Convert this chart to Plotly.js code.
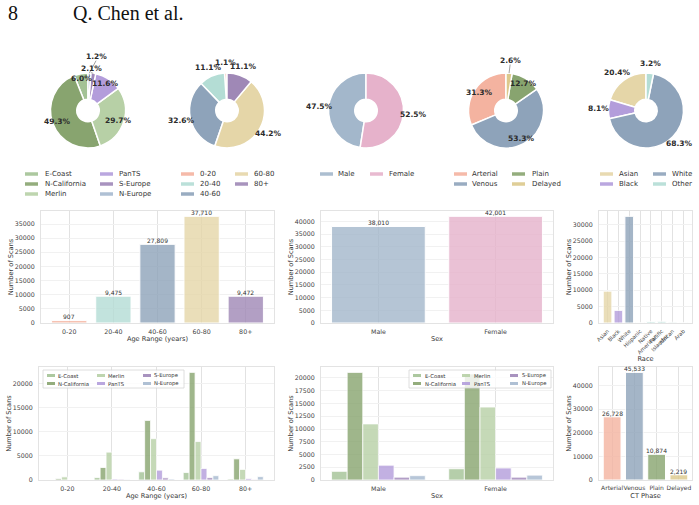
<!DOCTYPE html>
<html><head><meta charset="utf-8">
<script src="https://cdn.plot.ly/plotly-3.0.1.min.js"></script>
<style>html,body{margin:0;padding:0;background:#fff}#chart{width:699px;height:505px}</style>
</head><body><div id="chart"></div>
<script>
// ---------------- data ----------------
const datasets = ['E-Coast','N-California','Merlin','PanTS','S-Europe','N-Europe'];
const datasetShare = [6.0, 49.3, 29.7, 11.6, 2.1, 1.2];
const ageGroups = ['0-20','20-40','40-60','60-80','80+'];
const ageCounts = [907, 9475, 27809, 37710, 9472];
const sexes = ['Male','Female'];
const sexCounts = [38010, 42001];
const phases = ['Arterial','Venous','Plain','Delayed'];
const phaseCounts = [26728, 45533, 10874, 2219];
const races = ['Asian','Black','White','Hispanic','Native<br>American','Pacific<br>Islander','African','Arab'];
const raceCounts = [9740, 3870, 32600, 130, 480, 520, 240, 160];
const raceGroups = ['Asian','Black','White','Other'];
const raceGroupOf = [0, 1, 2, 3, 3, 3, 3, 3];
// counts by dataset (rows) and age group (columns)
const ageByDataset = [
  [0, 500, 1700, 1550, 200],
  [250, 2600, 12400, 22400, 4400],
  [650, 5800, 8600, 8000, 2200],
  [0, 200, 2050, 2400, 300],
  [0, 150, 450, 500, 100],
  [0, 50, 200, 900, 700]
];
// counts by dataset (rows) and sex (columns)
const sexByDataset = [
  [1700, 2200],
  [21100, 20800],
  [11000, 14300],
  [2900, 2350],
  [550, 550],
  [850, 950]
];

// ---------------- styles ----------------
const datasetColors = ['#a3c295','#88a46f','#b7d0a6','#b39ddb','#9f87b8','#a6b9cf'];
const ageColors = ['#f4b3a0','#b4ddd5','#8ea3ba','#e5d6a8','#9f88b6'];
const sexColors = ['#a3b7cb','#e6b2cb'];
const phaseColors = ['#f4b3a0','#8ea3ba','#88a46f','#dcc98c'];
const raceGroupColors = ['#e5d6a8','#b39ddb','#8ea3ba','#b4ddd5'];
const raceColors = raceGroupOf.map(g => raceGroupColors[g]);

const W = 699, H = 505;
const px = x => x / W, py = y => 1 - y / H;
const fam = 'DejaVu Sans';
const sum = a => a.reduce((s, v) => s + v, 0);

const layout = {
  width: W, height: H, margin: {l: 0, r: 0, t: 0, b: 0},
  paper_bgcolor: '#fff', plot_bgcolor: '#fff', showlegend: false,
  barmode: 'group', bargap: 0.2, bargroupgap: 0,
  font: {family: fam, color: '#333'},
  annotations: [], shapes: []
};
const traces = [];

// ---------------- header ----------------
layout.annotations.push({xref:'paper', yref:'paper', x: px(6), y: py(13), xanchor:'left', yanchor:'middle',
  text:'8', showarrow:false, font:{family:'Liberation Serif', size:20, color:'#111'}});
layout.annotations.push({xref:'paper', yref:'paper', x: px(71), y: py(13), xanchor:'left', yanchor:'middle',
  text:'Q. Chen et al.', showarrow:false, font:{family:'Liberation Serif', size:20, color:'#111'}});

// ---------------- pies ----------------
const raceGroupCounts = raceGroups.map((g, gi) => sum(raceCounts.filter((v, i) => raceGroupOf[i] === gi)));
const pies = [
  {labels: datasets, values: datasetShare, colors: datasetColors, cx: 88, rf: [0.86,0.86,0.86,0.86,1.14,1.45], dx:[0,0,0,0,-3,6], lead:[0,0,0,0,1,1]},
  {labels: ageGroups, values: ageCounts, colors: ageColors, cx: 227, rf: [1.27,1.25,1.25,1.27,1.25], dx:[0,0,0,0,0], lead:[0,0,0,0,0]},
  {labels: sexes, values: sexCounts, colors: sexColors, cx: 366, rf: [1.24,1.27], dx:[0,0], lead:[0,0]},
  {labels: phases, values: phaseCounts, colors: phaseColors, cx: 506, rf: [0.85,0.86,0.86,1.35], dx:[0,0,0,0], lead:[0,0,0,1]},
  {labels: raceGroups, values: raceGroupCounts, colors: raceGroupColors, cx: 646, rf: [1.26,1.27,1.26,1.25], dx:[0,0,0,0], lead:[0,0,0,0]}
];
const cy = 110.5, R = 37.5;
pies.forEach(p => {
  const tot = sum(p.values);
  // first wedge starts at 12 o'clock and runs counterclockwise
  traces.push({type:'pie', labels:p.labels, values:p.values, sort:false, direction:'counterclockwise',
    rotation: -360 * p.values[0] / tot,
    hole:0.3, domain:{x:[px(p.cx-R), px(p.cx+R)], y:[py(cy+R), py(cy-R)]},
    marker:{colors:p.colors, line:{color:'#ffffff', width:1.5}}, textinfo:'none', hoverinfo:'skip', showlegend:false});
  let cum = 0;
  p.values.forEach((v, i) => {
    const f = v / tot;
    const th = (90 + 360 * (cum + f / 2)) * Math.PI / 180;
    cum += f;
    const r = p.rf[i] * R;
    const lx = p.cx + r*Math.cos(th) + p.dx[i], ly = cy - r*Math.sin(th);
    layout.annotations.push({xref:'paper', yref:'paper', x: px(lx), y: py(ly),
      xanchor:'center', yanchor:'middle', showarrow:false, text:(f*100).toFixed(1) + '%',
      font:{family:fam, size:7.5, color:'#2b2b2b', weight:'bold'}});
    if (p.lead[i]) {
      layout.shapes.push({type:'line', xref:'paper', yref:'paper',
        x0: px(p.cx + R*Math.cos(th)), y0: py(cy - R*Math.sin(th)),
        x1: px(lx), y1: py(ly + 4.5),
        line:{color:'#777', width:0.7}});
    }
  });
});

// ---------------- manual legends ----------------
function addLegend(labels, colors, cols, rows, y0, dy, pw, ph, fs) {
  labels.forEach((lab, k) => {
    const c = cols[Math.floor(k / rows)], yy = y0 + dy * (k % rows);
    layout.shapes.push({type:'rect', xref:'paper', yref:'paper', x0:px(c[0]), x1:px(c[0]+pw), y0:py(yy+ph/2), y1:py(yy-ph/2),
      fillcolor:colors[k], opacity:0.9, line:{width:0}});
    layout.annotations.push({xref:'paper', yref:'paper', x:px(c[1]), y:py(yy), xanchor:'left', yanchor:'middle',
      text:lab, showarrow:false, borderpad:0, font:{family:fam, size:fs, color:'#333'}});
  });
}
addLegend(datasets, datasetColors, [[25,44],[100,118]], 3, 174, 10, 13, 3.5, 7);
addLegend(ageGroups, ageColors, [[181,199],[235,253]], 3, 174, 10, 13, 3.5, 7);
addLegend(sexes, sexColors, [[320,337],[370,388]], 1, 174, 10, 13, 3.5, 7);
addLegend(phases, phaseColors, [[454,471],[512,531]], 2, 174, 10, 13, 3.5, 7);
addLegend(raceGroups, raceGroupColors, [[600,618],[653,671]], 2, 174, 10, 13, 3.5, 7);

// ---------------- axes ----------------
const tickFont = {family:fam, size:6.3, color:'#444'};
const titleFont = {family:fam, size:6.6, color:'#333'};
function addAxes(id, xr0, yr0, xrange, ymax, dtick, xtitle, extra) {
  extra = extra || {};
  layout['xaxis' + id] = Object.assign({domain:[px(xr0[0]), px(xr0[1])], anchor:'y' + id, type:'category', range:xrange,
    showgrid:true, gridcolor:'#e2e2e2', gridwidth:1, showline:true, mirror:true, linecolor:'#e3e3e3', linewidth:1,
    ticks:'', tickfont:tickFont, tickangle:0, ticklabelstandoff:2, zeroline:false, fixedrange:true,
    title:{text:xtitle, font:titleFont, standoff:2}}, extra);
  layout['yaxis' + id] = {domain:[py(yr0[1]), py(yr0[0])], anchor:'x' + id, range:[0, ymax], dtick:dtick, tickformat:'d',
    showgrid:true, gridcolor:'#f1f1f1', gridwidth:1, showline:true, mirror:true, linecolor:'#e3e3e3', linewidth:1,
    ticks:'', tickfont:tickFont, ticklabelstandoff:4, zeroline:false, fixedrange:true,
    title:{text:'Number of Scans', font:titleFont, standoff:0}};
}
const maxOf = rows => Math.max(...rows.flat());
addAxes('', [41,274], [211,323], [-0.64,4.64], Math.max(...ageCounts)*1.05, 5000, 'Age Range (years)');
addAxes('2', [321,553], [211,323], [-0.49,1.49], Math.max(...sexCounts)*1.05, 5000, 'Sex');
addAxes('3', [599,692], [211,323], [-0.79,7.79], Math.max(...raceCounts)*1.05, 5000, 'Race',
  {tickangle:-45, tickfont:{family:fam, size:5.4, color:'#444'}, title:{text:'Race', font:titleFont, standoff:0}});
addAxes('4', [39,274], [367,480], [-0.64,4.64], maxOf(ageByDataset)*1.05, 5000, 'Age Range (years)');
addAxes('5', [321,553], [367,480], [-0.49,1.49], maxOf(sexByDataset)*1.05, 2500, 'Sex');
addAxes('6', [599,692], [367,480], [-0.59,3.59], Math.max(...phaseCounts)*1.05, 10000, 'CT Phase',
  {tickfont:{family:fam, size:6, color:'#444'}});

const valFont = {family:fam, size:6, color:'#333'};
function simpleBar(x, y, colors, id, labels) {
  traces.push({type:'bar', x:x, y:y, xaxis:'x' + id, yaxis:'y' + id, hoverinfo:'skip', textinfo:'none',
    marker:{color:colors, opacity:0.8, line:{color:'#ffffff', width:1}}});
  if (labels) {
    x.forEach((c, i) => layout.annotations.push({xref:'x' + id, yref:'y' + id, x:c, y:y[i], xanchor:'center',
      yanchor:'middle', yshift:3.5, showarrow:false, text:y[i].toLocaleString('en-US'), font:valFont}));
  }
}
simpleBar(ageGroups, ageCounts, ageColors, '', true);
simpleBar(sexes, sexCounts, sexColors, '2', true);
simpleBar(races, raceCounts, raceColors, '3', false);
simpleBar(phases, phaseCounts, phaseColors, '6', true);

datasets.forEach((d, i) => {
  traces.push({type:'bar', name:d, x:ageGroups, y:ageByDataset[i], xaxis:'x4', yaxis:'y4', hoverinfo:'skip',
    marker:{color:datasetColors[i], opacity:0.8, line:{color:'#ffffff', width:0.8}}});
  traces.push({type:'bar', name:d, x:sexes, y:sexByDataset[i], xaxis:'x5', yaxis:'y5', hoverinfo:'skip',
    marker:{color:datasetColors[i], opacity:0.8, line:{color:'#ffffff', width:0.8}}});
});

// in-plot legends for grouped charts
function boxLegend(x0, x1, y0, y1, cols) {
  layout.shapes.push({type:'rect', xref:'paper', yref:'paper', x0:px(x0), x1:px(x1), y0:py(y1), y1:py(y0),
    fillcolor:'rgba(255,255,255,0.8)', line:{color:'#d6d6d6', width:0.8}});
  addLegend(datasets, datasetColors, cols, 2, y0 + 5.5, 8, 8, 3, 5.3);
}
boxLegend(43, 184, 370, 388, [[47,57],[97,107],[143,153]]);
boxLegend(409, 551, 370, 388, [[413,424],[462,473],[510,521]]);

Plotly.newPlot('chart', traces, layout, {staticPlot:true, displayModeBar:false});
</script>
</body></html>
